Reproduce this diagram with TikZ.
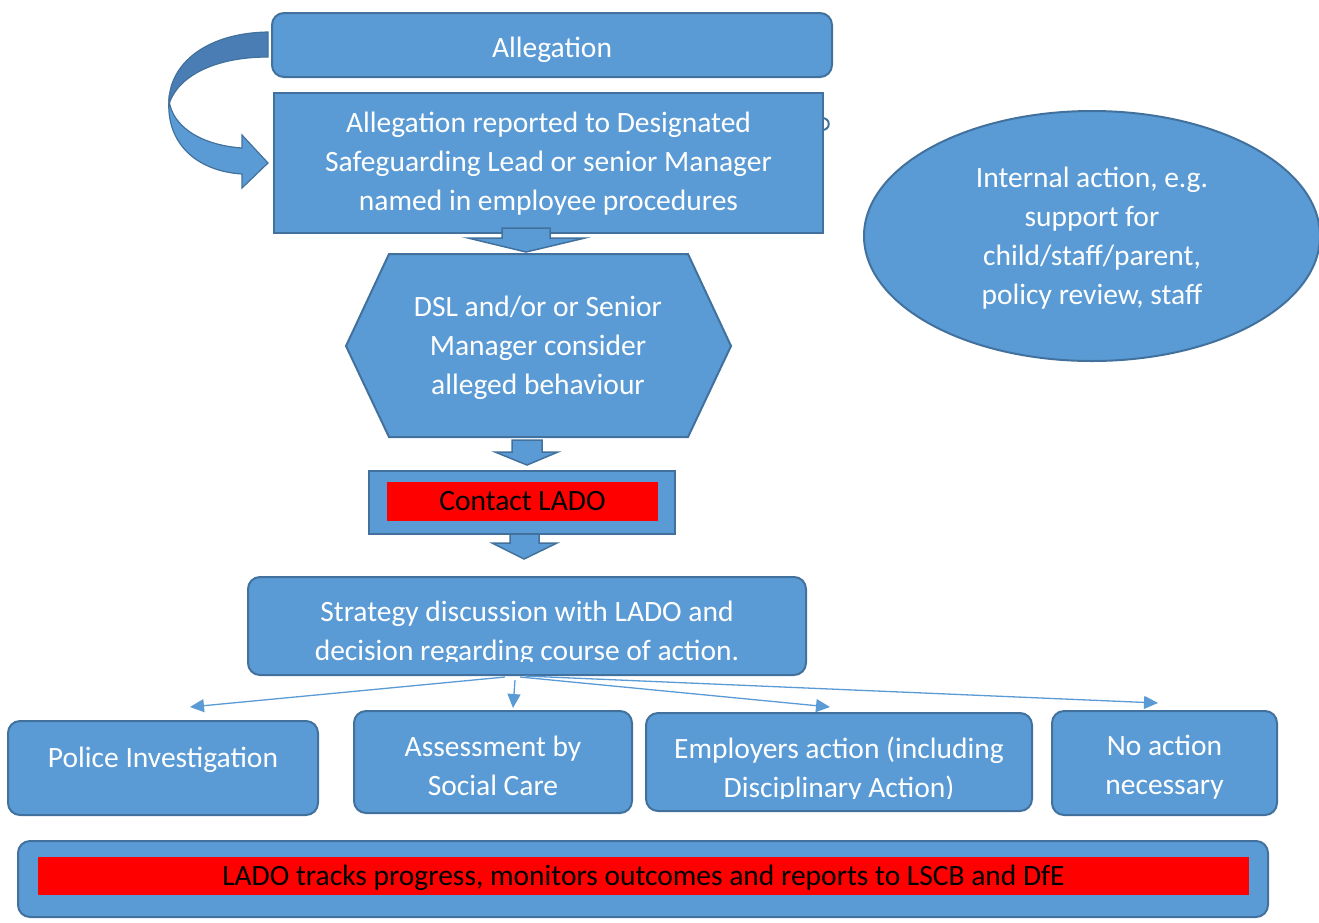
\documentclass[tikz,border=0pt]{standalone}
\usepackage{fontspec}
\setmainfont{Carlito}
\usetikzlibrary{arrows.meta,shapes.geometric}
\definecolor{boxfill}{HTML}{5B9BD5}
\definecolor{boxline}{HTML}{41719C}
\definecolor{darkband}{HTML}{4A7DB3}
\begin{document}
\begin{tikzpicture}[x=1pt,y=-1pt,
  txt/.style={text=white, font=\fontsize{29.5}{39}\selectfont, align=center, inner sep=0pt},
  box/.style={draw=boxline, line width=2pt, fill=boxfill, txt},
  rbox/.style={box, rounded corners=12pt},
  redbar/.style={fill=red, draw=none, text=black, font=\fontsize{29.5}{39}\selectfont, inner sep=0pt},
  flow/.style={draw=boxfill, line width=1.3pt, -{Triangle[length=14pt,width=13pt]}},
  blockarrow/.style={draw=boxline, line width=1.5pt, fill=boxfill, line join=miter}]
\useasboundingbox (0,0) rectangle (1319,922);

% top boxes
\node[rbox, minimum width=560, minimum height=64] (alleg) at (552,45) {};
\node[txt] (allegtext) at (552,49.5) {Allegation};
\node[box, minimum width=549, minimum height=140] (report) at (548.5,163) {};
\node[txt] (reporttext) at (548.5,164)
  {Allegation reported to Designated\\Safeguarding Lead or senior Manager\\named in employee procedures};
\draw[boxline, line width=2pt] (822,118) .. controls (831,118) and (831,130) .. (822,130);

% curved arrow
\fill[darkband, draw=boxline, line width=1.2pt]
  (268,32) .. controls (205,33) and (168,65) .. (169,104)
  .. controls (178,76) and (215,57) .. (268,57) -- cycle;
\fill[boxfill, draw=boxline, line width=1.2pt]
  (169,100) .. controls (172,126) and (200,145) .. (242,148) -- (242,135) -- (268,163)
  -- (242,188) -- (242,174) .. controls (195,171) and (166,142) .. (169,100) -- cycle;

% block arrow 1
\draw[blockarrow] (502,228) -- (550,228) -- (550,238) -- (585,238) -- (526,252) -- (468,238) -- (502,238) -- cycle;

% hexagon
\draw[draw=boxline, line width=2pt, fill=boxfill]
  (389,254) -- (688,254) -- (731,346) -- (688,437) -- (389,437) -- (346,346) -- cycle;
\node[txt] (dsl) at (538,348) {DSL and/or or Senior\\Manager consider\\alleged behaviour};

% block arrow 2
\draw[blockarrow] (512,440) -- (542,440) -- (542,452) -- (558,452) -- (527,465) -- (495,452) -- (512,452) -- cycle;

% contact LADO
\node[box, minimum width=306, minimum height=63] (contact) at (522,502) {};
\node[redbar, minimum width=271, minimum height=39] (contactred) at (522.5,501.5) {Contact LADO};

% block arrow 3
\draw[blockarrow] (510,534) -- (539,534) -- (539,543) -- (557,543) -- (524,559) -- (492,543) -- (510,543) -- cycle;

% strategy
\node[rbox, minimum width=558, minimum height=98] (strategy) at (527,626) {};
\begin{scope}
  \clip (250,580) rectangle (804,661);
  \node[txt] (strattext) at (527,633) {Strategy discussion with LADO and\\decision regarding course of action.};
\end{scope}

% outcome boxes
\node[rbox, minimum width=310, minimum height=94] (police) at (163,768) {};
\node[txt] (policetext) at (163,760) {Police Investigation};
\node[rbox, minimum width=278, minimum height=102] (assess) at (493,762) {};
\node[txt] (assesstext) at (493,765.5) {Assessment by\\Social Care};
\node[rbox, minimum width=386, minimum height=98] (employ) at (839,762) {};
\begin{scope}
  \clip (650,716) rectangle (1028,798);
  \node[txt] (employtext) at (839,769.5) {Employers action (including\\Disciplinary Action)};
\end{scope}
\node[rbox, minimum width=225, minimum height=104] (noaction) at (1164.5,763) {};
\node[txt] (noactiontext) at (1164.5,767.5) {No action\\necessary};

% thin arrows
\coordinate (t1) at (190,707);
\coordinate (t2) at (513,708);
\coordinate (t3) at (830,707);
\coordinate (t4) at (1158,703);
\draw[flow] ([xshift=-22pt,yshift=-1pt]strategy.south) -- (t1);
\draw[flow] ([xshift=-12pt,yshift=-4pt]strategy.south) -- (t2);
\draw[flow] ([xshift=-7pt,yshift=-1pt]strategy.south) -- (t3);
\draw[flow] ([xshift=-2pt,yshift=0pt]strategy.south) -- (t4);

% bottom bar
\node[rbox, minimum width=1250, minimum height=76] (lado) at (643,879) {};
\node[redbar, minimum width=1211, minimum height=38] (ladored) at (643.5,876) {};
\node[txt, text=black] (ladotext) at (643.5,878)
  {LADO tracks progress, monitors outcomes and reports to LSCB and DfE};

% ellipse
\node[ellipse, draw=boxline, line width=2pt, fill=boxfill, minimum width=456, minimum height=250, inner sep=0pt] (internal) at (1092,236) {};
\node[txt] (internaltext) at (1092,238) {Internal action, e.g.\\support for\\child/staff/parent,\\policy review, staff};
\end{tikzpicture}
\end{document}
